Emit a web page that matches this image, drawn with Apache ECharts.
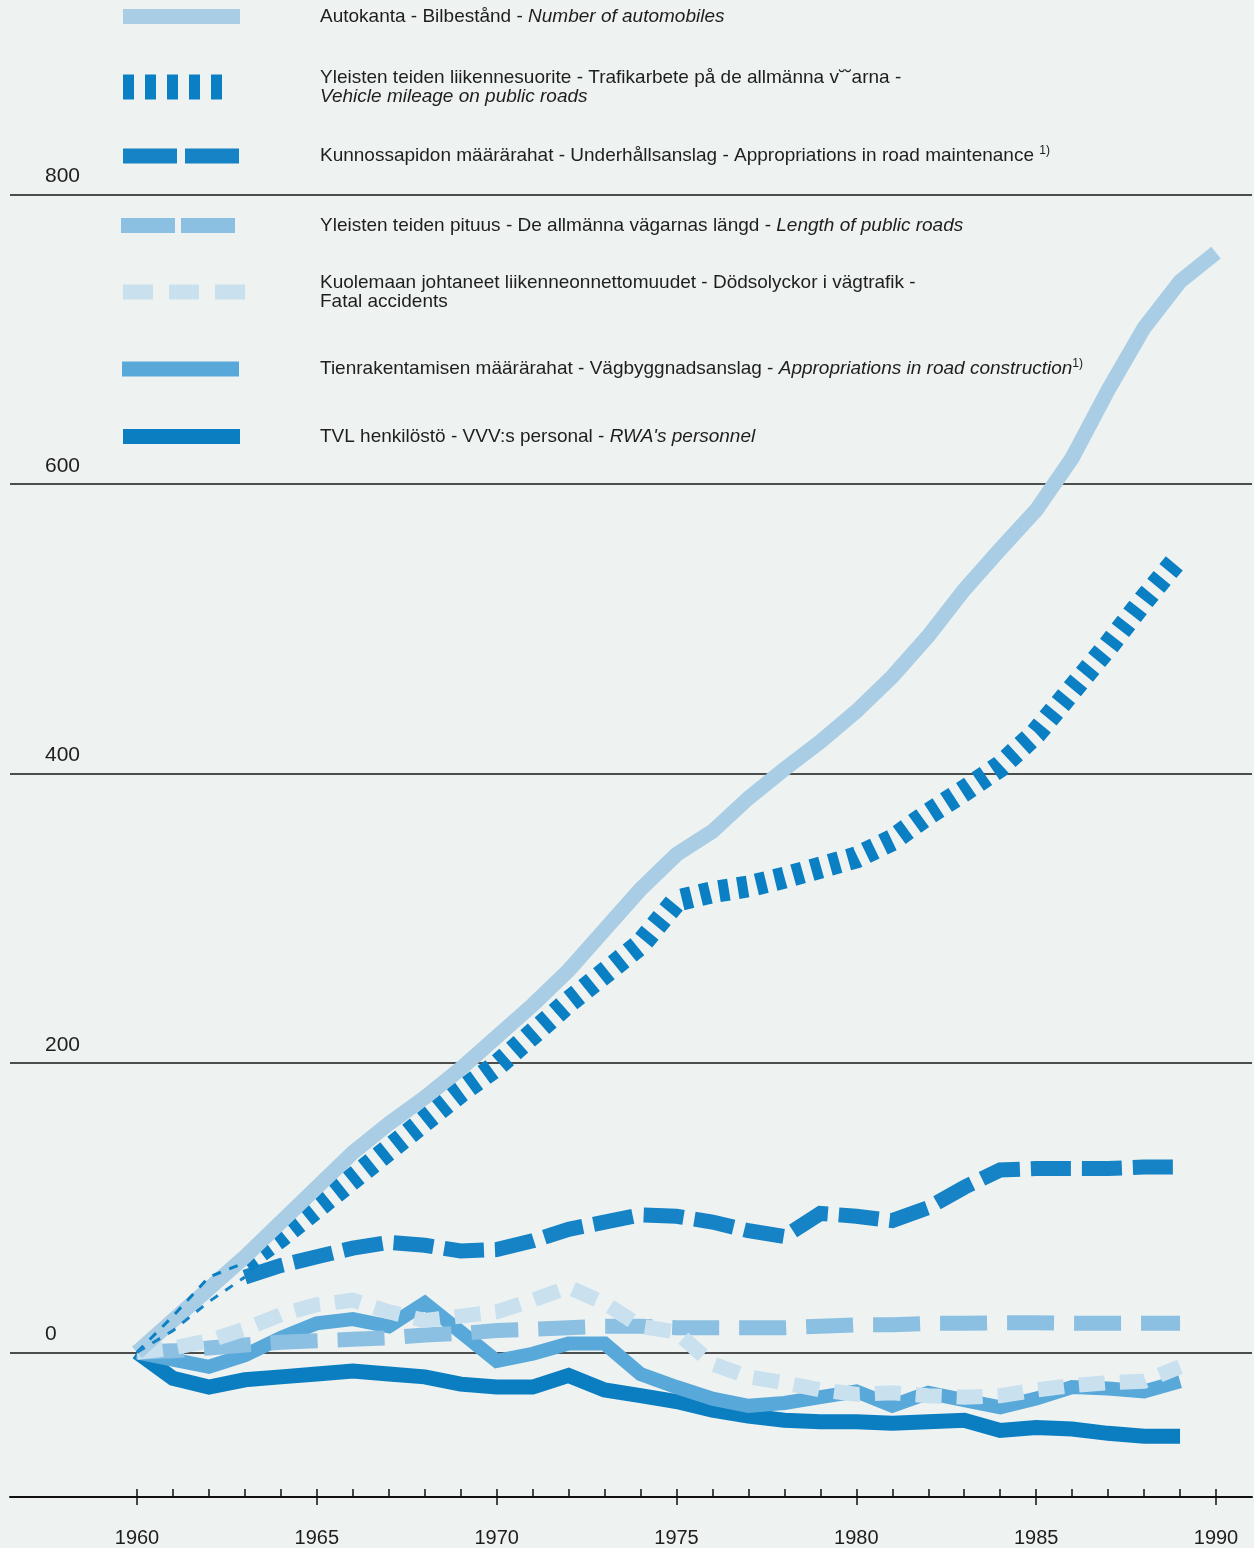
<!DOCTYPE html>
<html>
<head>
<meta charset="utf-8">
<script src="https://cdn.jsdelivr.net/npm/echarts@6/dist/echarts.min.js"></script>
<style>
html,body{margin:0;padding:0;background:#eef2f1;}
#chart{width:1254px;height:1548px;}
</style>
</head>
<body>
<div id="chart"></div>
<script>
// ---- data ----
const years = [1960,1961,1962,1963,1964,1965,1966,1967,1968,1969,1970,1971,1972,1973,1974,1975,1976,1977,1978,1979,1980,1981,1982,1983,1984,1985,1986,1987,1988,1989];
const yearsAuto = years.concat([1990]);
const automobiles = [0,22,44,66,90,114,138,158,176,196,218,240,264,292,320,344,360,383,403,422,443,467,495,527,555,582,618,665,708,740,760];
const vehicleMileage = [0,25,52,62,80,100,120,140,160,180,198,220,242,262,282,312,318,322,328,335,342,354,372,388,405,428,458,488,520,550];
const maintenance = [0,15,35,52,60,66,72,76,74,70,71,77,85,90,95,94,90,84,80,96,94,91,100,114,126,127,127,127,128,128];
const roadLength = [0,1,3,5,7,8,9,10,12,13,15,16,17,18,18,17,17,17,17,18,19,19,20,20,20.5,20.5,20,20,20,20];
const fatalAccidents = [0,3,8,16,26,33,36,28,22,25,28,36,45,34,18,14,-8,-17,-21,-26,-29,-28,-30,-31,-30,-26,-23,-21,-20,-10];
const construction = [0,-5,-10,-2,10,20,23,18,34,14,-6,-1,6,6,-15,-24,-32,-37,-35,-31,-27,-37,-28,-33,-38,-32,-24,-25,-27,-20];
const personnel = [0,-18,-24,-19,-17,-15,-13,-15,-17,-22,-24,-24,-16,-26,-30,-34,-40,-44,-47,-48,-48,-49,-48,-47,-54,-52,-53,-56,-58,-58];
// first years of the two series that are drawn with a thin broken line in the source
const thinEndIndex = 3; // 1960..1963
const yTickLabels = [0,200,400,600,800];
const xTickLabels = [1960,1965,1970,1975,1980,1985,1990];

const names = [
  'Autokanta - Bilbestånd - Number of automobiles',
  'Yleisten teiden liikennesuorite - Trafikarbete på de allmänna v˘˘arna - Vehicle mileage on public roads',
  'Kunnossapidon määrärahat - Underhållsanslag - Appropriations in road maintenance 1)',
  'Yleisten teiden pituus - De allmänna vägarnas längd - Length of public roads',
  'Kuolemaan johtaneet liikenneonnettomuudet - Dödsolyckor i vägtrafik - Fatal accidents',
  'Tienrakentamisen määrärahat - Vägbyggnadsanslag - Appropriations in road construction 1)',
  'TVL henkilöstö - VVV:s personal - RWA\'s personnel'
];
const legendRich = [
  'Autokanta - Bilbestånd - {i|Number of automobiles}',
  'Yleisten teiden liikennesuorite - Trafikarbete på de allmänna v˘˘arna -\n{SP}{i|Vehicle mileage on public roads}',
  'Kunnossapidon määrärahat - Underhållsanslag - Appropriations in road maintenance {sup|1)}',
  'Yleisten teiden pituus - De allmänna vägarnas längd - {i|Length of public roads}',
  'Kuolemaan johtaneet liikenneonnettomuudet - Dödsolyckor i vägtrafik -\n{SP}Fatal accidents',
  'Tienrakentamisen määrärahat - Vägbyggnadsanslag - {i|Appropriations in road construction}{sup|1)}',
  'TVL henkilöstö - VVV:s personal - {i|RWA\'s personnel}'
];

const colors = ['#a9cde4','#0a7fc3','#1583c6','#8cc0e2','#c9e0ee','#58a9da','#0b7ec2'];
const lineWidths = [15,22,15,15,15,14,15];
const dashes = ['solid',[10,9],[40,11],[47,20],[26,15],'solid','solid'];
const zs = [8,7,6,4,5,3,2];
const seriesValues = [automobiles,vehicleMileage,maintenance,roadLength,fatalAccidents,construction,personnel];
const thinStart = [false,true,true,false,false,false,false];

// legend layout (target icon left edge, centre y)
const legendLayout = [
  {cy:17, x:123, w:117, lw:15, dash:'solid'},
  {cy:87, x:123, w:100, lw:25, dash:[11,11]},
  {cy:155, x:123, w:117, lw:15, dash:[54,8]},
  {cy:226, x:121, w:115, lw:15, dash:[54,6]},
  {cy:292, x:123, w:122, lw:15, dash:[30,16]},
  {cy:368, x:122, w:117, lw:15, dash:'solid'},
  {cy:437, x:123, w:117, lw:15, dash:'solid'}
];

const TEXT = '#1e1e1e';
const FONT = 'Liberation Sans, Arial, sans-serif';
const FS = 19;
const ITEM_H = 14;

const legends = legendLayout.map((L, i) => {
  const left = L.x - L.lw / 2;
  const sp = 320 - L.x - L.w - 5;
  const twoLine = legendRich[i].indexOf('\n') >= 0;
  const txt = '{sp| }' + legendRich[i].replace('{SP}', '{sp| }');
  return {
    show: true,
    data: [names[i]],
    left: left,
    top: L.cy - (twoLine ? 19 : 10),
    padding: 0,
    itemWidth: L.w,
    itemHeight: ITEM_H,
    selectedMode: false,
    itemStyle: {opacity: 0},
    lineStyle: {width: L.lw, type: L.dash, color: colors[i], cap: 'butt', opacity: 1},
    formatter: () => txt,
    textStyle: {
      color: TEXT, fontSize: FS, fontFamily: FONT, lineHeight: 19,
      rich: {
        sp: {width: sp, fontSize: FS, lineHeight: 19},
        i: {fontStyle: 'italic', fontSize: FS, fontFamily: FONT, color: TEXT, lineHeight: 19},
        sup: {fontSize: 12, fontFamily: FONT, color: TEXT, padding: [0,0,10,0]}
      }
    }
  };
});

const series = [];
seriesValues.forEach((vals, i) => {
  const xs = (i === 0) ? yearsAuto : years;
  const pts = vals.map((v, k) => [xs[k], v]);
  const main = thinStart[i] ? pts.slice(thinEndIndex) : pts;
  series.push({
    name: names[i],
    type: 'line',
    xAxisIndex: 1,
    yAxisIndex: 1,
    data: main,
    symbol: 'none',
    clip: false,
    z: zs[i],
    lineStyle: {color: colors[i], width: lineWidths[i], type: dashes[i], cap: 'butt', join: 'miter', miterLimit: 4},
    itemStyle: {color: colors[i]},
    emphasis: {disabled: true},
    silent: true,
    animation: false
  });
  if (thinStart[i]) {
    series.push({
      name: names[i] + ' (early)',
      type: 'line',
      xAxisIndex: 1,
      yAxisIndex: 1,
      data: pts.slice(0, thinEndIndex + 1),
      symbol: 'none',
      clip: false,
      z: 9,
      lineStyle: {color: colors[i], width: 3, type: [9, 9], cap: 'butt'},
      itemStyle: {color: colors[i]},
      emphasis: {disabled: true},
      silent: true,
      animation: false
    });
  }
});

const TOP = 50, BOTTOM = 51;
const option = {
  backgroundColor: '#eef2f1',
  animation: false,
  legend: legends,
  grid: [
    {left: 10, right: 2, top: TOP, bottom: BOTTOM},
    {left: 137, right: 38, top: TOP, bottom: BOTTOM}
  ],
  xAxis: [
    {gridIndex: 0, type: 'value', min: 0, max: 1, position: 'bottom',
     axisLine: {show: true, onZero: false, lineStyle: {color: '#111', width: 2}},
     axisTick: {show: false}, axisLabel: {show: false}, splitLine: {show: false}},
    {gridIndex: 1, type: 'value', min: 1960, max: 1990, interval: 1, position: 'bottom',
     axisLine: {show: false, onZero: false},
     axisTick: {show: true, inside: true, length: 8, lineStyle: {color: '#111', width: 1.5}},
     axisLabel: {show: false}, splitLine: {show: false}},
    {gridIndex: 1, type: 'value', min: 1960, max: 1990, interval: 5, position: 'bottom',
     axisLine: {show: false, onZero: false},
     axisTick: {show: true, inside: false, length: 8, lineStyle: {color: '#111', width: 1.5}},
     axisLabel: {show: true, margin: 31, fontSize: 20, color: TEXT, fontFamily: FONT,
       formatter: v => xTickLabels.indexOf(v) >= 0 ? String(v) : ''},
     splitLine: {show: false}}
  ],
  yAxis: [
    {gridIndex: 0, type: 'value', min: -100, max: 900, interval: 100,
     axisLine: {show: false}, axisTick: {show: false},
     axisLabel: {show: true, inside: true, margin: 35, align: 'left', verticalAlign: 'bottom',
       fontSize: 21, lineHeight: 22, padding: [0,0,7,0], color: TEXT, fontFamily: FONT,
       formatter: v => yTickLabels.indexOf(v) >= 0 ? String(v) : ''},
     splitLine: {show: true, lineStyle: {color: ['rgba(0,0,0,0)','#161616'], width: 1.5}}},
    {gridIndex: 1, type: 'value', min: -100, max: 900, interval: 100,
     axisLine: {show: false}, axisTick: {show: false}, axisLabel: {show: false}, splitLine: {show: false}}
  ],
  series: series
};

const chart = echarts.init(document.getElementById('chart'), null, {renderer: 'canvas'});
chart.setOption(option);
</script>
</body>
</html>
